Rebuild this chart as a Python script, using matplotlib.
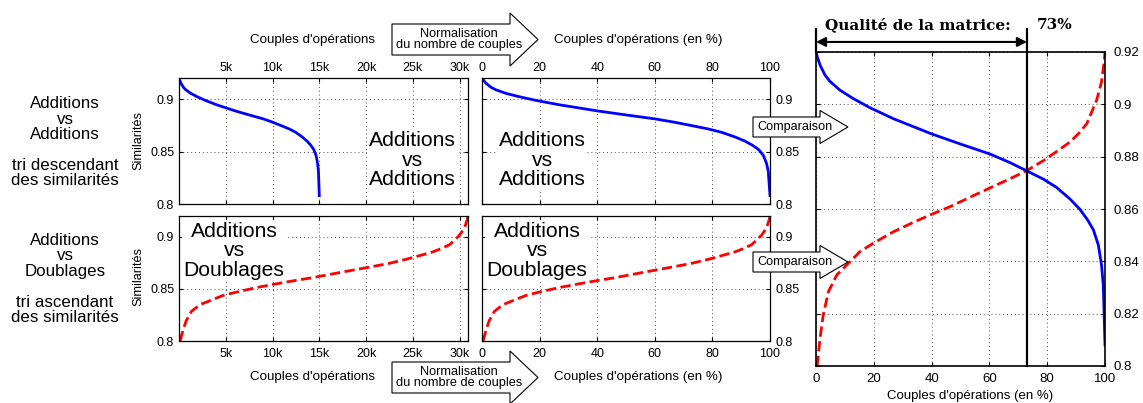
import matplotlib
matplotlib.use("Agg")
import matplotlib.pyplot as plt
from matplotlib.patches import Polygon
from matplotlib.ticker import FuncFormatter

plt.rcParams['font.family'] = ['Liberation Sans', 'DejaVu Sans']

# data (percent of sorted couples -> similarity)
pct_add = [0, 0.5, 1.4, 3.1, 4.8, 8.3, 12.9, 18.7, 26.8, 32.5, 40, 49.8, 60.2, 67, 72.9,
           78.7, 83.3, 87.9, 91.3, 94, 96, 97.7, 98.8, 99.4, 99.7, 100]
sim_add_add = [0.920, 0.918, 0.915, 0.9112, 0.9088, 0.9054, 0.9022, 0.8987, 0.8945, 0.892, 0.8887,
               0.8849, 0.881, 0.8778, 0.8746, 0.8714, 0.8682, 0.8638, 0.8599, 0.8558, 0.852,
               0.8462, 0.8386, 0.831, 0.8195, 0.808]
pct_dbl = [0.4, 1.4, 2.5, 4.3, 7.2, 10.6, 15.2, 19.8, 26.8, 33.7, 39.4, 46.4, 55.6, 67, 73,
           78.7, 83.3, 87.9, 91, 93.7, 97.1, 98.8, 99.7, 100]
sim_add_dbl = [0.800, 0.8106, 0.8195, 0.8284, 0.8348, 0.8386, 0.8437, 0.8469, 0.8513, 0.8549,
               0.8577, 0.8609, 0.8657, 0.8715, 0.8747, 0.8785, 0.882, 0.8856, 0.889, 0.8926,
               0.9016, 0.9086, 0.9163, 0.920]
n_add_add = 15000
n_add_dbl = 30900
quality = 73

k_ticks = [5000, 10000, 15000, 20000, 25000, 30000]
k_labels = ['5k', '10k', '15k', '20k', '25k', '30k']
pct_ticks = [0, 20, 40, 60, 80, 100]
sim_ticks = [0.8, 0.85, 0.9]
sim_ticks_big = [0.8, 0.82, 0.84, 0.86, 0.88, 0.9, 0.92]

W, H = 1143, 403
fig = plt.figure(figsize=(W / 100, H / 100), dpi=100)


def px(x, y):
    return x / W, 1 - y / H


def add_ax(x0, y0, x1, y1):
    return fig.add_axes([x0 / W, 1 - y1 / H, (x1 - x0) / W, (y1 - y0) / H])


fmt = FuncFormatter(lambda v, p: '%g' % v)


def style(ax, fs=9):
    ax.grid(True, color='0.3', linestyle=(0, (1, 3)), lw=0.7)
    ax.tick_params(direction='in', top=True, right=True, length=3, width=0.8, labelsize=fs)
    for s in ax.spines.values():
        s.set_linewidth(0.9)
    ax.set_ylim(0.8, 0.92)
    ax.yaxis.set_major_formatter(fmt)


def big_label(ax, x, y, s):
    ax.text(x / W, 1 - y / H, s, transform=fig.transFigure, ha='center', va='center',
            fontsize=15.2, linespacing=1.05, zorder=1.8,
            bbox=dict(facecolor='white', edgecolor='none', pad=1))


x_add = [p / 100 * n_add_add for p in pct_add]
x_dbl = [p / 100 * n_add_dbl for p in pct_dbl]

# top left
ax1 = add_ax(179, 78, 468, 204)
style(ax1)
ax1.plot(x_add, sim_add_add, color='blue', lw=2)
ax1.set_xlim(0, n_add_dbl)
ax1.set_xticks(k_ticks, k_labels)
ax1.set_yticks(sim_ticks)
ax1.tick_params(axis='x', labeltop=True, labelbottom=False, pad=3)
big_label(ax1, 412, 160, "Additions\nvs\nAdditions")

# bottom left
ax2 = add_ax(179, 216, 468, 341)
style(ax2)
ax2.plot(x_dbl, sim_add_dbl, color='red', lw=2, ls='--')
ax2.set_xlim(0, n_add_dbl)
ax2.set_xticks(k_ticks, k_labels)
ax2.set_yticks(sim_ticks)
ax2.tick_params(axis='x', pad=5)
big_label(ax2, 234, 251, "Additions\nvs\nDoublages")

# top middle
ax3 = add_ax(482, 78, 770, 204)
style(ax3)
ax3.plot(pct_add, sim_add_add, color='blue', lw=2)
ax3.set_xlim(0, 100)
ax3.set_xticks(pct_ticks)
ax3.set_yticks(sim_ticks)
ax3.tick_params(axis='x', labeltop=True, labelbottom=False, pad=3)
ax3.tick_params(axis='y', labelleft=False, labelright=True, pad=4)
big_label(ax3, 542, 160, "Additions\nvs\nAdditions")

# bottom middle
ax4 = add_ax(482, 216, 770, 341)
style(ax4)
ax4.plot(pct_dbl, sim_add_dbl, color='red', lw=2, ls='--')
ax4.set_xlim(0, 100)
ax4.set_xticks(pct_ticks)
ax4.set_yticks(sim_ticks)
ax4.tick_params(axis='x', pad=5)
ax4.tick_params(axis='y', labelleft=False, labelright=True, pad=4)
big_label(ax4, 537, 251, "Additions\nvs\nDoublages")

# right: comparison
ax5 = add_ax(816, 52, 1105, 366)
style(ax5, fs=9.5)
ax5.plot(pct_dbl, sim_add_dbl, color='red', lw=2, ls='--')
ax5.plot(pct_add, sim_add_add, color='blue', lw=2)
ax5.set_xlim(0, 100)
ax5.set_xticks(pct_ticks)
ax5.set_yticks(sim_ticks_big)
ax5.tick_params(axis='y', labelleft=False, labelright=True, pad=6)
ax5.tick_params(axis='x', pad=5)
for s in ax5.spines.values():
    s.set_linewidth(1.2)
ext = 1 + 23 / 314
ax5.axvline(quality, ymin=0, ymax=ext, color='black', lw=1.6, clip_on=False)
ax5.axvline(0, ymin=1, ymax=ext, color='black', lw=1.6, clip_on=False)
ax5.annotate('', xy=(quality, 1.032), xytext=(0, 1.032),
             xycoords=('data', 'axes fraction'), textcoords=('data', 'axes fraction'),
             arrowprops=dict(arrowstyle='<|-|>', color='black', lw=1.5,
                             shrinkA=0, shrinkB=0, mutation_scale=14))
fig.text(*px(918, 25), "Qualité de la matrice:", family='DejaVu Serif', weight='bold',
         fontsize=11, ha='center', va='center')
fig.text(*px(1055, 25), "73%", family='DejaVu Serif', weight='bold',
         fontsize=11, ha='center', va='center')
fig.text(*px(970, 396), "Couples d'opérations (en %)", fontsize=9.5, ha='center', va='center')

# axis labels
for y in (40, 377):
    fig.text(*px(312, y), "Couples d'opérations", fontsize=9.6, ha='center', va='center')
    fig.text(*px(638, y), "Couples d'opérations (en %)", fontsize=9.6, ha='center', va='center')
for y in (140, 277):
    fig.text(*px(138, y), "Similarités", fontsize=9.2, rotation=90, ha='center', va='center')

# left descriptions
for (y, s) in [(119, "Additions\nvs\nAdditions"), (173, "tri descendant\ndes similarités"),
               (256, "Additions\nvs\nDoublages"), (310, "tri ascendant\ndes similarités")]:
    fig.text(*px(65, y), s, fontsize=12.2, ha='center', va='center', linespacing=1.08)


# block arrows
def block_arrow(x0, x1, xtip, yc, body_h, head_h, text, fs):
    pts = [(x0, yc - body_h), (x1, yc - body_h), (x1, yc - head_h), (xtip, yc),
           (x1, yc + head_h), (x1, yc + body_h), (x0, yc + body_h)]
    poly = Polygon([px(x, y) for x, y in pts], closed=True, transform=fig.transFigure,
                   facecolor='white', edgecolor='black', lw=0.8, zorder=5)
    fig.add_artist(poly)
    fig.text(*px((x0 + xtip) / 2 - 6, yc), text, fontsize=fs, ha='center', va='center',
             linespacing=0.85, zorder=6)


block_arrow(392, 510, 538, 39.5, 15.5, 26.5, "Normalisation\ndu nombre de couples", 9.2)
block_arrow(392, 510, 538, 377.5, 15.5, 26.5, "Normalisation\ndu nombre de couples", 9.2)
block_arrow(753, 820, 848, 127, 10, 16.5, "Comparaison", 9.1)
block_arrow(753, 820, 848, 262, 10, 16.5, "Comparaison", 9.1)

fig.savefig("out.png", dpi=100)
